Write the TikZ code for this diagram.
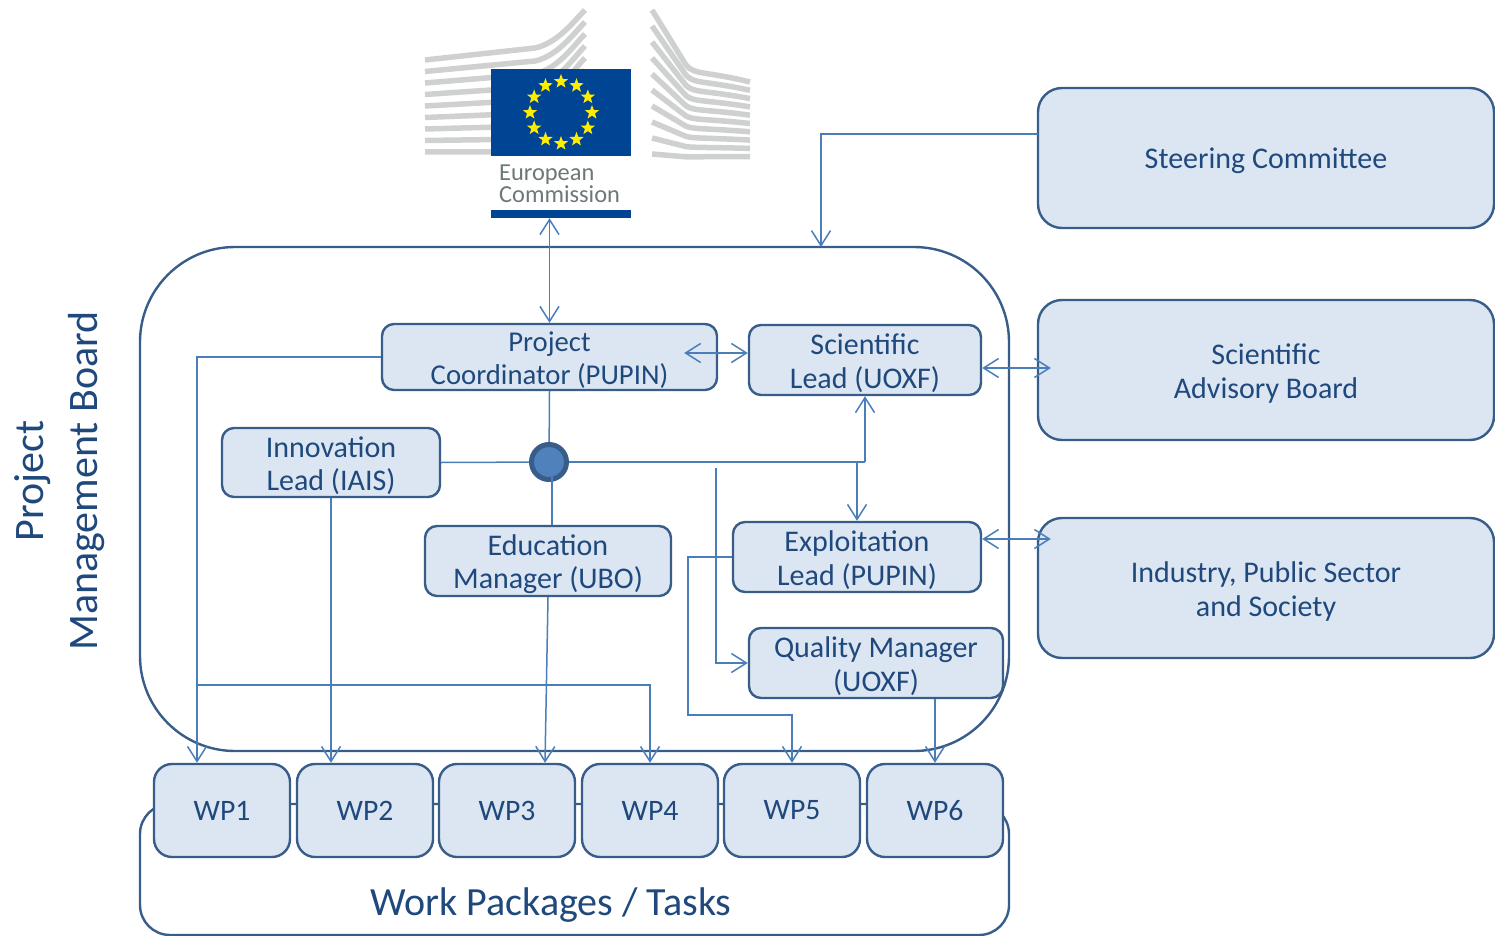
\documentclass[tikz,border=0pt]{standalone}
\usepackage{fontspec}
\setmainfont{Carlito}
\definecolor{boxfill}{HTML}{DCE6F2}
\definecolor{boxline}{HTML}{385D8A}
\definecolor{linkblue}{HTML}{4A7EBB}
\definecolor{hubblue}{HTML}{4F81BD}
\definecolor{textblue}{HTML}{1F497D}
\definecolor{ecblue}{HTML}{004494}
\definecolor{ecyellow}{HTML}{FFED00}
\definecolor{ecgrey}{HTML}{CFD0D0}
\definecolor{ectext}{HTML}{6D7678}
\usetikzlibrary{shapes.geometric, arrows.meta, positioning, calc}
\newcommand{\firstline}[1][27.5pt]{\rule{0pt}{#1}}

\begin{document}
\begin{tikzpicture}[
  x=1pt, y=-1pt,
  sidebox/.style={draw=boxline, fill=boxfill, line width=2.4pt, rounded corners=24pt, minimum width=456pt, minimum height=140pt, align=center, text=textblue, font=\fontsize{30}{33.5}\selectfont, inner sep=0pt},
  leadbox/.style={draw=boxline, fill=boxfill, line width=2.4pt, rounded corners=12pt, minimum height=69pt, align=center, text=textblue, font=\fontsize{30}{33.5}\selectfont, inner sep=0pt},
  wpbox/.style={draw=boxline, fill=boxfill, line width=2.4pt, rounded corners=18pt, minimum width=136pt, minimum height=93pt, text=textblue, font=\fontsize{29.7}{33}\selectfont, inner sep=0pt},
  groupbox/.style={draw=boxline, line width=2.4pt, minimum width=869pt, inner sep=0pt},
  link/.style={draw=linkblue, line width=1.5pt},
  linkto/.style={link, -{Straight Barb[length=15pt,width=19pt,line width=1.5pt]}},
  linkboth/.style={link, {Straight Barb[length=15pt,width=19pt,line width=1.5pt]}-{Straight Barb[length=15pt,width=19pt,line width=1.5pt]}},
  ecstripe/.style={draw=ecgrey, line width=5.5pt},
  ecstar/.style={star, star points=5, star point ratio=2.4, fill=ecyellow, minimum size=15pt, inner sep=0pt}
]
  \useasboundingbox (0,0) rectangle (1495,936);

  % Logo
  \foreach \i in {0,...,8} {
    \draw[ecstripe] (425,{60+11.5*\i}) -- (535,{60+11.5*\i-12*(1-\i/8)}) .. controls (558,{60+11.5*\i-12*(1-\i/8)-5}) and (575,{10+12*\i+10}) .. (585,{10+12*\i});
  }
  \foreach \i in {0,...,9} {
    \draw[ecstripe] (652,{10+16*\i}) -- (686,{65+10.2*\i}) .. controls (694,{65+10.2*\i+10*(1-\i/9)}) and (705,{82+8.3*\i-11*(1-\i/9)}) .. (750,{82+8.3*\i});
  }
  \node[fill=ecblue, minimum width=140pt, minimum height=87pt, inner sep=0pt] (flag) at (561,112.5) {};
  \foreach \i in {1,...,12} {
    \node[ecstar] (star\i) at ($(flag.center)+({30*\i}:31pt)$) {};
  }
  \node[align=left, anchor=north west, text=ectext, font=\fontsize{24.4}{19.5}\selectfont, inner sep=0pt] (ectitle) at (499,165) {European\\Commission};
  \node[fill=ecblue, minimum width=140pt, minimum height=8pt, inner sep=0pt] (ec) at (561,214) {};

  % Groups
  \node[groupbox, rounded corners=30pt, minimum height=131pt] (wpgroup) at (574.5,869.5) {};
  \node[groupbox, rounded corners=95pt, minimum height=504pt] (board) at (574.5,499) {};
  \node[text=textblue, font=\fontsize{42}{54}\selectfont, align=center, rotate=90, inner sep=0pt] (boardtitle) at (59.5,481) {Project\\Management Board};
  \node[text=textblue, font=\fontsize{40}{44}\selectfont, inner sep=0pt] (wptitle) at (551,905) {Work Packages / Tasks};

  % Work packages
  \node[wpbox] (wp1) at (222,810.5) {WP1};
  \node[wpbox] (wp2) at (365,810.5) {WP2};
  \node[wpbox] (wp3) at (507,810.5) {WP3};
  \node[wpbox] (wp4) at (650,810.5) {WP4};
  \node[wpbox] (wp5) at (792,810.5) {WP5};
  \node[wpbox] (wp6) at (935,810.5) {WP6};

  % Board members
  \node[leadbox, minimum width=335pt, minimum height=66pt, font=\fontsize{28.7}{33.5}\selectfont] (pc) at (549.5,357) {\firstline[21.5pt]Project\\\smash{Coordinator (PUPIN)}};
  \node[leadbox, minimum width=232pt, minimum height=70pt] (sl) at (865,360) {\firstline Scientific\\Lead (UOXF)};
  \node[leadbox, minimum width=218pt] (il) at (331,462.5) {\firstline Innovation\\Lead (IAIS)};
  \node[leadbox, minimum width=246pt, minimum height=70pt] (em) at (548,561) {\firstline Education\\Manager (UBO)};
  \node[leadbox, minimum width=248pt, minimum height=70pt] (el) at (857,557) {\firstline Exploitation\\Lead (PUPIN)};
  \node[leadbox, minimum width=254pt, minimum height=70pt] (qm) at (876,663) {\firstline Quality Manager\\(UOXF)};

  % Outside bodies
  \node[sidebox] (sc) at (1266,158) {\firstline[27pt]Steering Committee};
  \node[sidebox] (sab) at (1266,370) {\firstline Scientific\\Advisory Board};
  \node[sidebox] (ind) at (1266,588) {\firstline Industry, Public Sector\\and Society};

  % Free ends
  \coordinate (scout) at (1038,134);
  \coordinate (boardin) at (821,247);
  \coordinate (wp4tap) at (197,685);
  \coordinate (qmtap) at (716,468);
  \coordinate (wp5bend) at (688,715);

  % Links
  \draw[link] (pc.south) -- (549,462);
  \draw[link] (il.east) -- (549,462);
  \draw[link] (549,462) -- (sl.south |- 549,462);
  \draw[linkboth] (ec.south -| pc.north) -- (pc.north);
  \draw[linkto] (scout) -| (boardin);
  \draw[linkboth] ([xshift=-34pt,yshift=4pt]pc.east) -- ([yshift=7pt]sl.west);
  \draw[linkboth] ([yshift=-8pt]sl.east) -- ([shift={(14pt,2pt)}]sab.west);
  \draw[linkboth] ([yshift=18pt]el.east) -- ([shift={(14pt,49pt)}]ind.west);
  \draw[linkto] (pc.west) -| ([xshift=-25pt]wp1.north);
  \draw[linkto] (wp4tap) -| (wp4.north);
  \draw[linkto] (il.south) -- (il.south |- wp2.north);
  \draw[linkto] (em.south) -- ([xshift=38pt]wp3.north);
  \draw[linkto] (sl.south |- 549,462) -- (sl.south);
  \draw[linkto] (el.north |- 549,462) -- (el.north);
  \draw[linkto] (qmtap) |- (qm.west);
  \draw[linkto] (el.west) -| (wp5bend) -| (wp5.north);
  \draw[linkto] ([xshift=59pt]qm.south) -- ([xshift=59pt]qm.south |- wp6.north);

  % Hub
  \node[circle, draw=boxline, fill=hubblue, line width=5pt, minimum size=35pt, inner sep=0pt] (hub) at (549,462) {};
  \draw[link] ([shift={(3pt,8pt)}]hub.south) -- ([xshift=4pt]em.north);
\end{tikzpicture}
\end{document}
